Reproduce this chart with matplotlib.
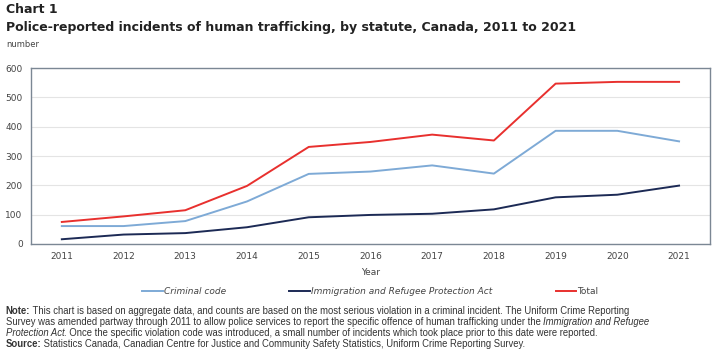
import matplotlib.pyplot as plt

years = [2011, 2012, 2013, 2014, 2015, 2016, 2017, 2018, 2019, 2020, 2021]
criminal_code = [61, 61, 78, 145, 239, 247, 268, 240, 386, 386, 350]
irpa = [16, 32, 37, 57, 91, 99, 103, 118, 159, 168, 199]
total = [75, 94, 115, 198, 331, 348, 373, 353, 547, 553, 553]
yticks = [0, 100, 200, 300, 400, 500, 600]

fig = plt.figure(figsize=(7.2, 3.51), dpi=100)
ax = fig.add_axes([0.043, 0.305, 0.943, 0.501])

ax.plot(years, criminal_code, color='#7eaad6', lw=1.4, label='Criminal code')
ax.plot(years, irpa, color='#1c2a55', lw=1.4, label='Immigration and Refugee Protection Act')
ax.plot(years, total, color='#e8302e', lw=1.4, label='Total')

ax.set_xlim(2010.5, 2021.5)
ax.set_ylim(0, 600)
ax.set_xticks(years)
ax.set_yticks(yticks)
ax.tick_params(labelsize=6.5, colors='#444444', length=0, pad=6)
ax.grid(axis='y', color='#e4e4e4', lw=0.8)
ax.set_axisbelow(True)
for s in ax.spines.values():
    s.set_color('#7b8794')
    s.set_linewidth(1)
ax.set_xlabel('Year', fontsize=6.5, color='#444444', labelpad=5)

leg = ax.legend(loc='upper center', bbox_to_anchor=(0.5, -0.2), ncol=3, frameon=False,
                fontsize=6.5, handlelength=2.3, handletextpad=0.1, columnspacing=7)
for t in leg.get_texts():
    t.set_color('#444444')
    if t.get_text() != 'Total':
        t.set_fontstyle('italic')

fig.text(0.008, 0.972, 'Chart 1', fontsize=9, fontweight='bold', color='#222222', va='center')
fig.text(0.008, 0.922, 'Police-reported incidents of human trafficking, by statute, Canada, 2011 to 2021',
         fontsize=9, fontweight='bold', color='#222222', va='center')
fig.text(0.008, 0.872, 'number', fontsize=6, color='#444444', va='center')

# note lines are made of pieces with their own style: (text, weight, style)
notes = [
    [('Note:', 'bold', 'normal'),
     (' This chart is based on aggregate data, and counts are based on the most serious violation in a criminal incident. The Uniform Crime Reporting', 'normal', 'normal')],
    [('Survey was amended partway through 2011 to allow police services to report the specific offence of human trafficking under the ', 'normal', 'normal'),
     ('Immigration and Refugee', 'normal', 'italic')],
    [('Protection Act', 'normal', 'italic'),
     ('. Once the specific violation code was introduced, a small number of incidents which took place prior to this date were reported.', 'normal', 'normal')],
    [('Source:', 'bold', 'normal'),
     (' Statistics Canada, Canadian Centre for Justice and Community Safety Statistics, Uniform Crime Reporting Survey.', 'normal', 'normal')],
]
renderer = fig.canvas.get_renderer()
inv = fig.transFigure.inverted()
for i, pieces in enumerate(notes):
    x = 0.008
    y = 0.104 - i * 0.031
    for txt, w, st in pieces:
        t = fig.text(x, y, txt, fontsize=6.85, family='Liberation Sans', fontweight=w,
                     fontstyle=st, color='#333333', va='baseline')
        bb = t.get_window_extent(renderer)
        x = inv.transform((bb.x1, bb.y0))[0]

fig.savefig('out.png', dpi=100)
